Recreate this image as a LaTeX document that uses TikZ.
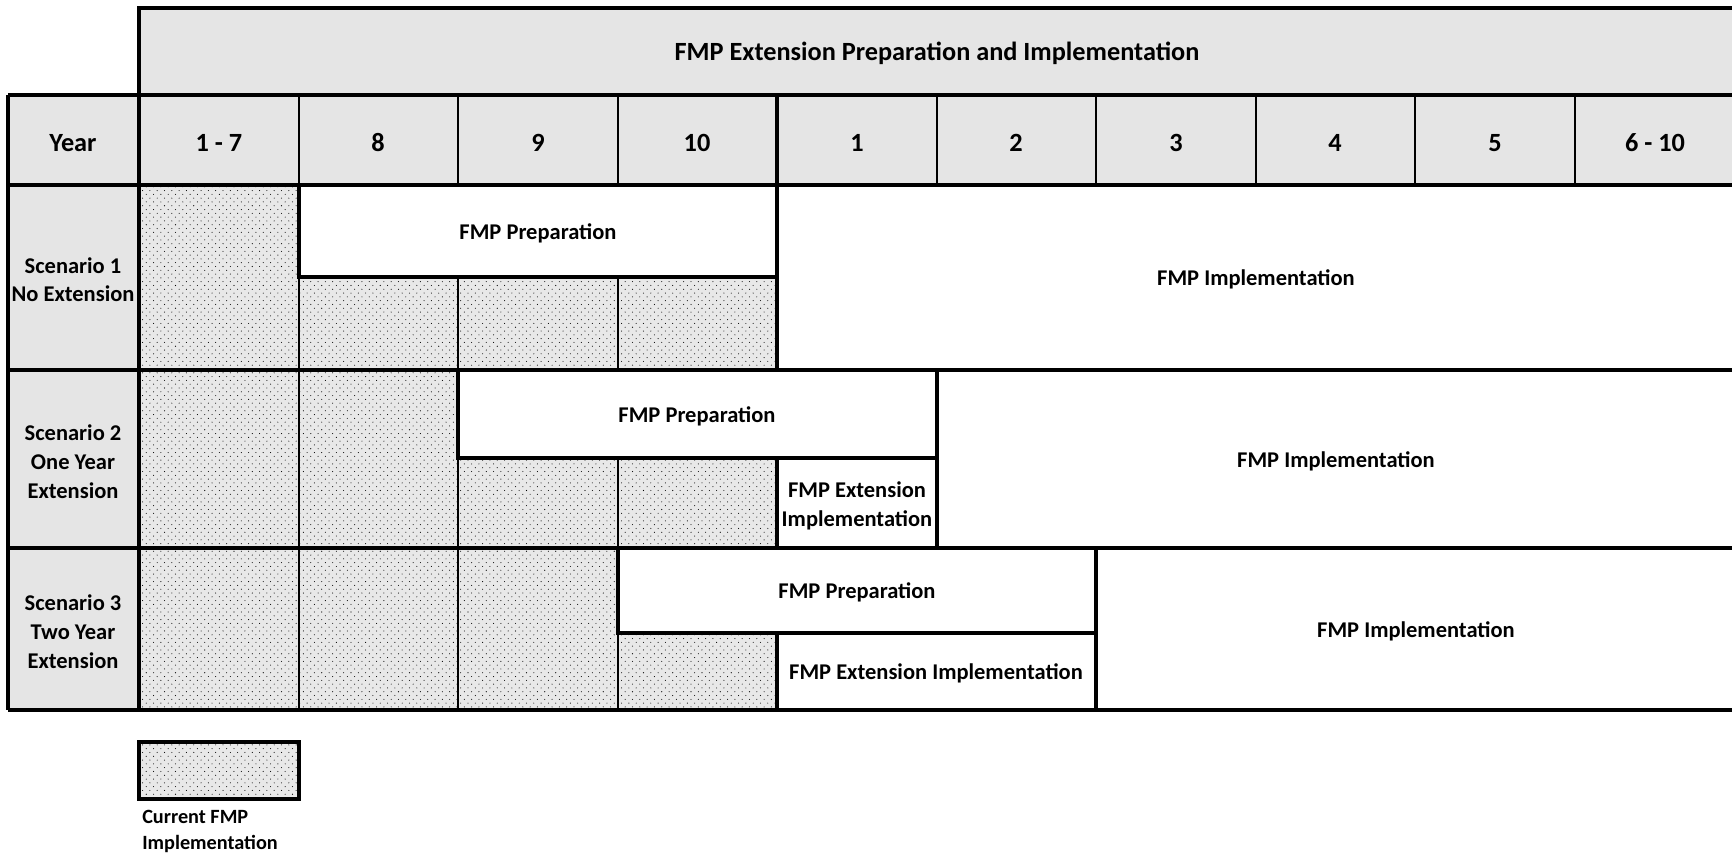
\documentclass[tikz,border=0pt]{standalone}
\usepackage{fontspec}
\setmainfont{Carlito}
\usetikzlibrary{patterns}

\pgfdeclarepatternformonly{fmpdots}{\pgfpoint{-0.5pt}{-0.5pt}}{\pgfpoint{3.1pt}{3.2pt}}{\pgfpoint{5.2pt}{5.4pt}}%
{\pgfpathcircle{\pgfpointorigin}{0.38pt}\pgfpathcircle{\pgfpoint{2.6pt}{2.7pt}}{0.38pt}\pgfusepath{fill}}

\begin{document}
\begin{tikzpicture}[x=0.025cm, y=-0.025cm]

\tikzset{heading/.style = {fill=gray!20}}
\tikzset{current/.style = {fill=gray!18, postaction={pattern=fmpdots, pattern color=black}}}
\tikzset{thickline/.style = {line width=2.8pt}}
\tikzset{thinline/.style = {line width=1.2pt}}
\tikzset{txt/.style = {font=\bfseries\fontsize{16}{20.4}\selectfont, align=center, inner sep=0pt, yshift=-2pt}}
\tikzset{headtxt/.style = {txt, font=\bfseries\fontsize{18.7}{22}\selectfont}}
\tikzset{legendtxt/.style = {font=\bfseries\fontsize{14.4}{18.9}\selectfont, align=left, inner sep=0pt, yshift=-1pt}}

\useasboundingbox (0,0) rectangle (1732,855);
\clip (0,0) rectangle (1732,855);

%fills
\fill[heading] (139,8) rectangle (1740,95);
\fill[heading] (8,95) rectangle (1740,185);
\fill[heading] (8,185) rectangle (139,710);
\fill[current] (139,185) rectangle (299,370);
\fill[current] (299,277) rectangle (777,370);
\fill[current] (139,370) rectangle (458,548);
\fill[current] (458,458) rectangle (777,548);
\fill[current] (139,548) rectangle (618,710);
\fill[current] (618,633) rectangle (777,710);
\fill[current] (139,742) rectangle (299,799);

%thin lines
\draw[thinline] (299,95) -- (299,185);
\draw[thinline] (458,95) -- (458,185);
\draw[thinline] (618,95) -- (618,185);
\draw[thinline] (937,95) -- (937,185);
\draw[thinline] (1096,95) -- (1096,185);
\draw[thinline] (1256,95) -- (1256,185);
\draw[thinline] (1415,95) -- (1415,185);
\draw[thinline] (1575,95) -- (1575,185);
\draw[thinline] (299,277) -- (299,370);
\draw[thinline] (458,277) -- (458,370);
\draw[thinline] (618,277) -- (618,370);
\draw[thinline] (299,370) -- (299,548);
\draw[thinline] (458,458) -- (458,548);
\draw[thinline] (618,458) -- (618,548);
\draw[thinline] (299,548) -- (299,710);
\draw[thinline] (458,548) -- (458,710);
\draw[thinline] (618,633) -- (618,710);

%thick lines
\draw[thickline] (139,95) -- (139,8) -- (1740,8);
\draw[thickline] (8,95) -- (1740,95);
\draw[thickline] (8,185) -- (1740,185);
\draw[thickline] (8,370) -- (1740,370);
\draw[thickline] (8,548) -- (1740,548);
\draw[thickline] (8,710) -- (1740,710);
\draw[thickline] (8,95) -- (8,710);
\draw[thickline] (139,95) -- (139,710);
\draw[thickline] (777,95) -- (777,185);
\draw[thickline] (299,185) -- (299,277) -- (777,277);
\draw[thickline] (777,185) -- (777,370);
\draw[thickline] (458,370) -- (458,458) -- (937,458);
\draw[thickline] (937,370) -- (937,548);
\draw[thickline] (777,458) -- (777,548);
\draw[thickline] (618,548) -- (618,633) -- (1096,633);
\draw[thickline] (1096,548) -- (1096,710);
\draw[thickline] (777,633) -- (777,710);
\draw[thickline] (139,742) rectangle (299,799);

%title and years
\node[headtxt] (title) at (937,51) {FMP Extension Preparation and Implementation};
\node[headtxt] (year) at (73,140) {Year};
\node[headtxt] (y1to7) at (219,140) {1 - 7};
\node[headtxt] (y8) at (378,140) {8};
\node[headtxt] (y9) at (538,140) {9};
\node[headtxt] (y10) at (697,140) {10};
\node[headtxt] (n1) at (857,140) {1};
\node[headtxt] (n2) at (1016,140) {2};
\node[headtxt] (n3) at (1176,140) {3};
\node[headtxt] (n4) at (1335,140) {4};
\node[headtxt] (n5) at (1495,140) {5};
\node[headtxt] (n6to10) at (1655,140) {6 - 10};

%scenarios
\node[txt] (s1) at (73,277) {Scenario 1\\No Extension};
\node[txt] (s2) at (73,459) {Scenario 2\\One Year\\Extension};
\node[txt] (s3) at (73,629) {Scenario 3\\Two Year\\Extension};
\node[txt] (prep1) at (538,231) {FMP Preparation};
\node[txt] (impl1) at (1256,277) {FMP Implementation};
\node[txt] (prep2) at (697,414) {FMP Preparation};
\node[txt] (ext2) at (857,503) {FMP Extension\\Implementation};
\node[txt] (impl2) at (1336,459) {FMP Implementation};
\node[txt] (prep3) at (857,590) {FMP Preparation};
\node[txt] (ext3) at (936,671) {FMP Extension Implementation};
\node[txt] (impl3) at (1416,629) {FMP Implementation};

%legend
\node[legendtxt, anchor=west] (legend) at (142,830) {Current FMP\\Implementation};

\end{tikzpicture}
\end{document}
